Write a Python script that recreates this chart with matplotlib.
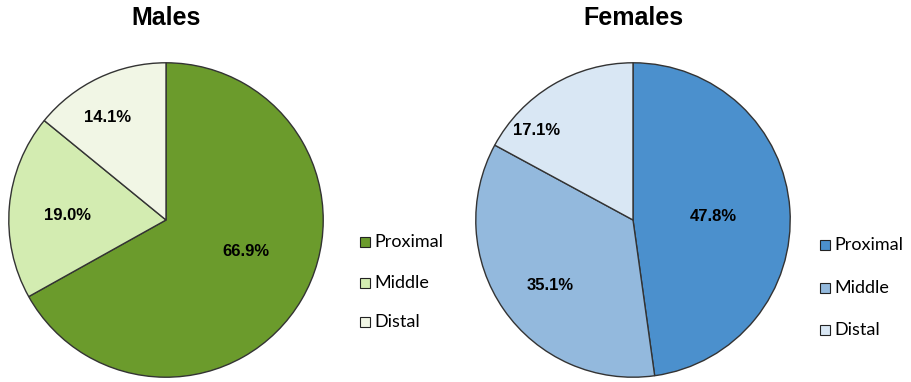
import matplotlib
matplotlib.use("Agg")
import matplotlib.pyplot as plt
import numpy as np

categories = ["Proximal", "Middle", "Distal"]
males = [66.9, 19.0, 14.1]
females = [47.8, 35.1, 17.1]
titles = ["Males", "Females"]

male_colors = ["#6b9b2c", "#d3ecb1", "#f1f6e5"]
female_colors = ["#4b90cd", "#93b9dd", "#d9e7f4"]

W, H = 912, 382
fig = plt.figure(figsize=(W / 100, H / 100), dpi=100)

R = 158


def draw_pie(cx, cy, values, colors, title, label_dist, label_turn, legend_x, legend_ys):
    ax = fig.add_axes([(cx - R) / W, (H - cy - R) / H, 2 * R / W, 2 * R / H])
    wedges, _, autotexts = ax.pie(
        values, colors=colors, startangle=90, counterclock=False,
        autopct="%.1f%%", pctdistance=0.6, radius=1.0,
        wedgeprops=dict(edgecolor="#333333", linewidth=1.0),
        textprops=dict(fontsize=12, fontweight="bold", family="Liberation Sans"),
    )
    # place each percentage label at its own radius / angle within the wedge
    start = 90.0
    for t, v, d, turn in zip(autotexts, values, label_dist, label_turn):
        mid = np.deg2rad(start - v * 3.6 / 2 + turn)
        t.set_position((d * np.cos(mid), d * np.sin(mid)))
        start -= v * 3.6
    ax.set_xlim(-1.005, 1.005)
    ax.set_ylim(-1.005, 1.005)
    ax.set_aspect("equal")
    ax.axis("off")
    fig.text(cx / W, 1 - 18 / H, title, ha="center", va="center",
             fontsize=18, fontweight="bold", family="Liberation Sans")
    for cat, col, ly in zip(categories, colors, legend_ys):
        fig.patches.append(plt.Rectangle((legend_x / W, 1 - (ly + 5) / H), 10 / W, 10 / H,
                                         transform=fig.transFigure, facecolor=col,
                                         edgecolor="#222222", linewidth=0.8))
        fig.text((legend_x + 14) / W, 1 - ly / H, cat, ha="left", va="center",
                 fontsize=13, family="Lato")


draw_pie(166, 220, males, male_colors, titles[0],
         [0.55, 0.63, 0.75], [8.8, 2.7, 4.4], 360, [242, 283, 322])
draw_pie(633, 220, females, female_colors, titles[1],
         [0.51, 0.67, 0.84], [-1.2, 3.8, 16.3], 820, [245, 288, 330])

fig.savefig("out.png", dpi=100)
